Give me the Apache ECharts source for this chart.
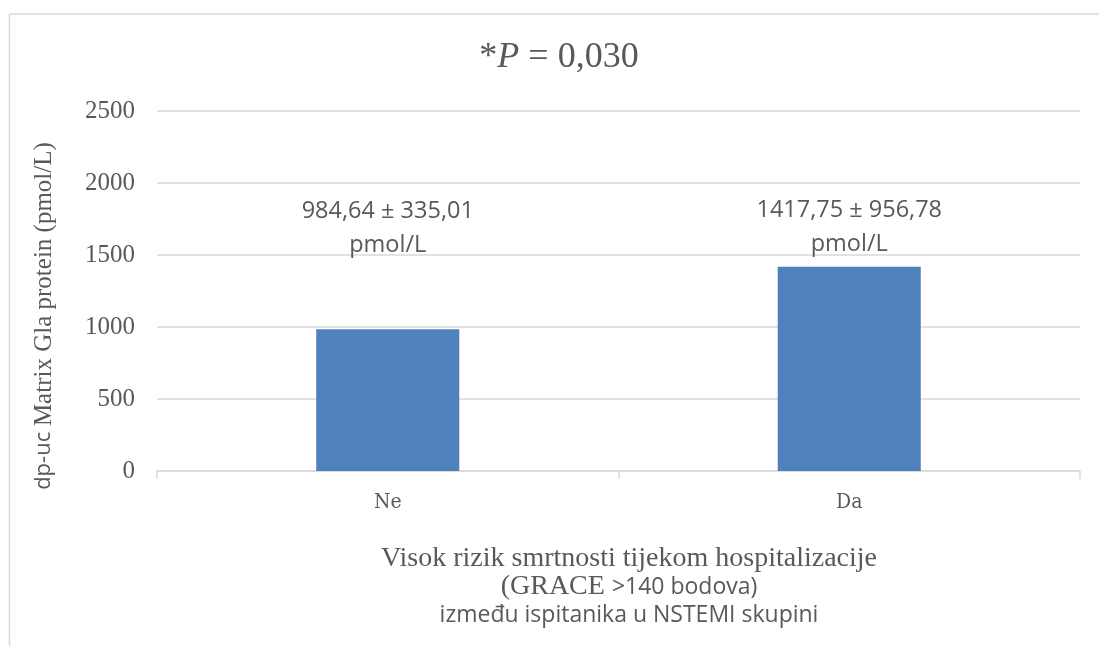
<!DOCTYPE html>
<html><head><meta charset="utf-8">
<script src="https://cdn.jsdelivr.net/npm/echarts@6/dist/echarts.min.js"></script>
<style>html,body{margin:0;padding:0;background:#fff}#c{width:1099px;height:646px}</style>
</head><body><div id="c"></div>
<script>
const categories = ['Ne', 'Da'];
const values = [984.64, 1417.75];
const labelTexts = ['984,64 ± 335,01\npmol/L', '1417,75 ± 956,78\npmol/L'];
const yTicks = [0, 500, 1000, 1500, 2000, 2500];

const serif = '"Liberation Serif", "DejaVu Serif", serif';
const condSerif = '"DejaVu Serif Condensed", "Liberation Serif", serif';
const sans = '"Open Sans", "Noto Sans", sans-serif';
const grey = '#595959';

const chart = echarts.init(document.getElementById('c'));
const labelOffsets = [[0, -62], [0, -1]];
chart.setOption({
  animation: false,
  grid: { left: 157, right: 19, top: 111, bottom: 175 },
  xAxis: {
    type: 'category', data: categories,
    axisLine: { lineStyle: { color: '#d9d9d9', width: 1.5 } },
    axisTick: { show: true, length: 8, lineStyle: { color: '#d9d9d9', width: 1.5 } },
    axisLabel: { color: grey, fontFamily: condSerif, fontSize: 21, margin: 21 }
  },
  yAxis: {
    type: 'value', min: yTicks[0], max: yTicks[yTicks.length - 1], interval: 500,
    axisLine: { show: false }, axisTick: { show: false },
    splitLine: { lineStyle: { color: '#d9d9d9', width: 1.5 } },
    axisLabel: { color: grey, fontFamily: serif, fontSize: 25, margin: 22, formatter: v => String(v) }
  },
  series: [{
    type: 'bar', barWidth: '31%',
    itemStyle: { color: '#4f81bd' },
    data: values.map((v, i) => ({
      value: v,
      label: {
        show: true, position: 'top', offset: labelOffsets[i],
        formatter: labelTexts[i], color: grey, fontFamily: sans, fontSize: 23.5, lineHeight: 34
      }
    }))
  }],
  graphic: [
    { type: 'line', shape: { x1: 9.5, y1: 14, x2: 1099, y2: 14 }, style: { stroke: '#d9d9d9', lineWidth: 1.5 } },
    { type: 'line', shape: { x1: 9.5, y1: 14, x2: 9.5, y2: 646 }, style: { stroke: '#d9d9d9', lineWidth: 1.5 } },
    {
      type: 'text', x: 559, y: 58,
      style: {
        text: '{a|*}{b|P}{a| = 0,030}',
        align: 'center', verticalAlign: 'middle',
        rich: {
          a: { fontFamily: serif, fontSize: 36, fill: grey },
          b: { fontFamily: serif, fontSize: 36, fontStyle: 'italic', fill: grey }
        }
      }
    },
    {
      type: 'text', x: 44, y: 316, rotation: Math.PI / 2,
      style: {
        text: '{s|dp-uc }{r|Matrix Gla protein (pmol/L)}',
        align: 'center', verticalAlign: 'middle',
        rich: {
          s: { fontFamily: sans, fontSize: 22, fill: grey },
          r: { fontFamily: serif, fontSize: 25, fill: grey }
        }
      }
    },
    {
      type: 'text', x: 629, y: 545,
      style: {
        text: '{r|Visok rizik smrtnosti tijekom hospitalizacije}\n{r|(GRACE }{s|>140 bodova)}\n{s|između ispitanika u NSTEMI skupini}',
        align: 'center',
        rich: {
          r: { fontFamily: serif, fontSize: 28, fill: grey, lineHeight: 28, align: 'center' },
          s: { fontFamily: sans, fontSize: 23, fill: grey, lineHeight: 28, align: 'center' }
        }
      }
    }
  ]
});
</script>
</body></html>
